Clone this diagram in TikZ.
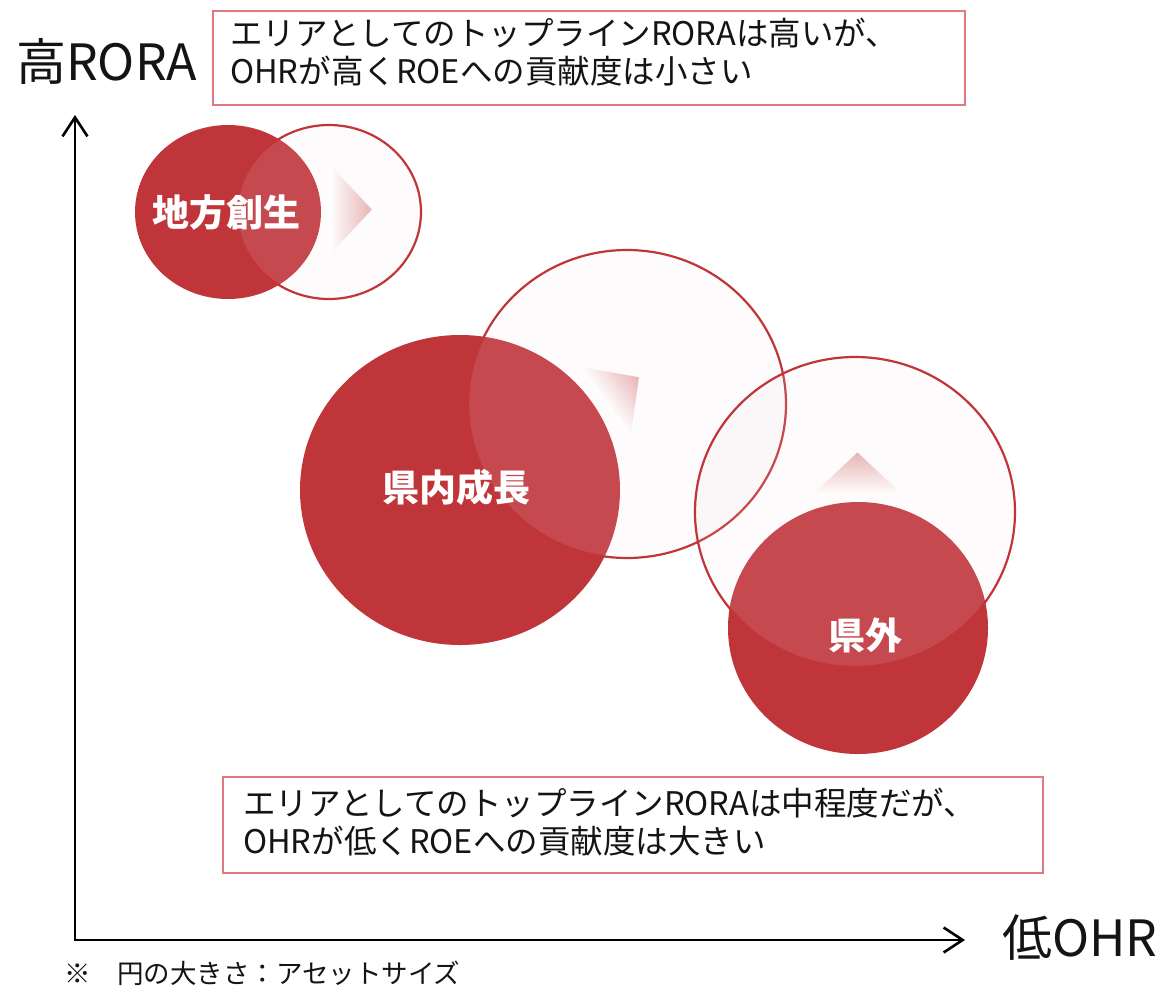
\documentclass[tikz,border=0pt]{standalone}
\usepackage{fontspec}
\setmainfont{Noto Sans CJK JP}
\usetikzlibrary{arrows.meta}
\definecolor{fillred}{RGB}{192,53,58}
\definecolor{boxred}{RGB}{224,122,126}
\definecolor{tripink}{RGB}{232,180,181}
\definecolor{ghost}{RGB}{240,225,228}
\definecolor{txt}{RGB}{20,20,20}
\begin{document}
\begin{tikzpicture}[x=1pt,y=-1pt,
  solidc/.style={fill=fillred},
  ghostc/.style={draw=fillred, line width=2.2pt, fill=ghost, fill opacity=0.12},
  tri/.style={left color=white, middle color=tripink!92!white, right color=tripink},
  boxc/.style={draw=boxred, line width=2pt, fill=white, inner sep=0pt, anchor=north west},
  boxtext/.style={anchor=base west, inner sep=0pt, text=txt, font=\fontsize{32.5}{38}\selectfont},
  axlab/.style={anchor=base west, inner sep=0pt, text=txt, font=\fontsize{50}{58}\selectfont},
  bublab/.style={inner sep=0pt, text=white, font=\bfseries\fontsize{37}{40}\selectfont},
  axisline/.style={line width=2.6pt, black}
]
\useasboundingbox (0,0) rectangle (1159,988);
\fill[white] (0,0) rectangle (1159,988);

% ---- boxes ----
\node[boxc, minimum width=752pt, minimum height=94pt] (box1) at (212,10) {};
\node[boxtext] (t1a) at (230,45) {エリアとしてのトップラインRORAは高いが、};
\node[boxtext] (t1b) at (230,83) {OHRが高くROEへの貢献度は小さい};

\node[boxc, minimum width=820pt, minimum height=96pt] (box2) at (222,776) {};
\node[boxtext] (t2a) at (243,815) {エリアとしてのトップラインRORAは中程度だが、};
\node[boxtext] (t2b) at (243,853) {OHRが低くROEへの貢献度は大きい};

% ---- axes ----
\coordinate (O) at (75,940);
\coordinate (ytip) at (75,115);
\coordinate (xtip) at (965,940);
\draw[axisline, {Straight Barb[length=19pt,width=25pt]}-{Straight Barb[length=19pt,width=25pt]}] (ytip) -- (O) -- (xtip);
\node[axlab] (ylab) at (16,80) {高RORA};
\node[axlab] (xlab) at (1002,956) {低OHR};
\node[anchor=base west, inner sep=0pt, text=txt, font=\fontsize{26.5}{30}\selectfont] (note) at (64,983) {※　円の大きさ：アセットサイズ};

% ---- 地方創生 ----
\fill[solidc] (228,212) ellipse [x radius=93pt, y radius=87pt];
\path[ghostc] (329,212) ellipse [x radius=92pt, y radius=87pt];
\begin{scope}[transform canvas={rotate around={0:(329.3,209.5)}}]
  \shade[tri] (329.3,209.5-45.5) -- (329.3+42.5,209.5) -- (329.3,209.5+45.5) -- cycle;
\end{scope}
\node[bublab] (l1) at (226,212) {地方創生};

% ---- 県内成長 ----
\fill[solidc] (460,490) ellipse [x radius=160pt, y radius=155pt];
\path[ghostc] (627,404) ellipse [x radius=159pt, y radius=154pt];
\begin{scope}[transform canvas={rotate around={36:(604.2,402.5)}}]
  \shade[tri] (604.2,402.5-44.5) -- (604.2+43,402.5) -- (604.2,402.5+44.5) -- cycle;
\end{scope}
\node[bublab] (l2) at (456,487) {県内成長};

% ---- 県外 ----
\fill[solidc] (858,628) ellipse [x radius=130pt, y radius=126pt];
\path[ghostc] (855,512) ellipse [x radius=160pt, y radius=155pt];
\begin{scope}[transform canvas={rotate around={90:(857.5,495)}}]
  \shade[tri] (857.5,495-45.5) -- (857.5+42.5,495) -- (857.5,495+45.5) -- cycle;
\end{scope}
\node[bublab] (l3) at (865,635) {県外};
\end{tikzpicture}
\end{document}
